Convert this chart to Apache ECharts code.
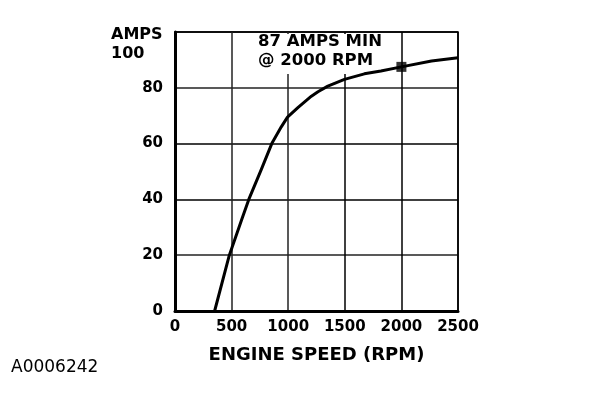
<!DOCTYPE html>
<html>
<head>
<meta charset="utf-8">
<script src="https://cdn.jsdelivr.net/npm/echarts@6/dist/echarts.min.js"></script>
<style>
html,body{margin:0;padding:0;background:#fff;}
#c{width:608px;height:398px;}
</style>
</head>
<body>
<div id="c"></div>
<script>
// Data
const rpm  = [350, 480, 591, 652, 760, 855, 939, 994, 1088, 1205, 1263, 1350, 1497, 1673, 1819, 2000, 2266, 2500];
const amps = [0,   20,  33,  40,  50.5, 60, 66, 69.5, 73,  77,   78.6, 80.6, 83,   85,   86,   87.5, 89.6, 90.8];
const markerRpm = [2000];
const markerAmps = [87.5];
const xTicks = [0, 500, 1000, 1500, 2000, 2500];
const yTicks = [0, 20, 40, 60, 80, 100];
const yUnit = 'AMPS';
const xName = 'ENGINE SPEED (RPM)';
const note = ['87 AMPS MIN', '@ 2000 RPM'];
const figId = 'A0006242';

const FONT = 'DejaVu Sans';
const chart = echarts.init(document.getElementById('c'), null, {renderer: 'canvas'});
chart.setOption({
  animation: false,
  backgroundColor: '#fff',
  grid: {left: 175, right: 150, top: 32, bottom: 87, show: true, borderColor: '#000', borderWidth: 1.5, backgroundColor: 'transparent'},
  title: {
    text: note.join('\n'),
    left: 258, top: 32,
    padding: 0,
    textStyle: {fontFamily: FONT, fontWeight: 'bold', fontSize: 16.5, color: '#000', lineHeight: 19},
    z: 10
  },
  xAxis: {
    type: 'value', min: xTicks[0], max: xTicks[xTicks.length - 1], interval: 500,
    name: xName, nameLocation: 'middle', nameGap: 35,
    nameTextStyle: {fontFamily: FONT, fontWeight: 'bold', fontSize: 18, color: '#000'},
    axisLine: {show: true, lineStyle: {color: '#000', width: 3}},
    axisTick: {show: false},
    axisLabel: {margin: 9, fontFamily: FONT, fontWeight: 'bold', fontSize: 15, color: '#000',
      formatter: v => xTicks.includes(v) ? String(v) : ''},
    splitLine: {show: true, lineStyle: {color: ['#000', '#222', '#222', '#000', '#000', '#000'], width: 1.5}}
  },
  yAxis: {
    type: 'value', min: yTicks[0], max: yTicks[yTicks.length - 1], interval: 20,
    axisLine: {show: true, lineStyle: {color: '#000', width: 3}},
    axisTick: {show: false},
    axisLabel: {margin: 12, fontFamily: FONT, fontWeight: 'bold', fontSize: 15, color: '#000',
      formatter: v => (v === yTicks[yTicks.length - 1]) ? '' : String(v)},
    splitLine: {show: true, lineStyle: {color: ['#000', '#222', '#000', '#000', '#222', '#000'], width: 1.5}}
  },
  graphic: [
    {type: 'rect', z: 1, shape: {x: 256, y: 34, width: 138, height: 40}, style: {fill: '#fff'}},
    {type: 'text', left: 111, top: 25, z: 10,
      style: {text: yUnit + '\n' + yTicks[yTicks.length - 1], fontFamily: FONT, fontWeight: 'bold', fontSize: 16, lineHeight: 19, fill: '#000'}},
    {type: 'text', left: 11, top: 359,
      style: {text: figId, fontFamily: FONT, fontSize: 17, fill: '#000'}}
  ],
  series: [
    {type: 'line', data: rpm.map((r, i) => [r, amps[i]]), showSymbol: false, smooth: false,
      lineStyle: {color: '#000', width: 3, join: 'round'}, z: 3},
    {type: 'scatter', data: markerRpm.map((r, i) => [r, markerAmps[i]]), symbol: 'rect', symbolSize: 10,
      itemStyle: {color: '#000'}, z: 4}
  ]
});
</script>
</body>
</html>
